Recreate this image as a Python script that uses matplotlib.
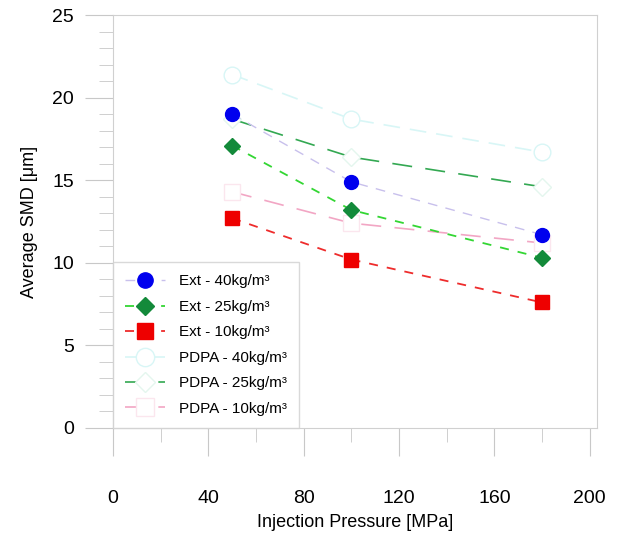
import matplotlib.pyplot as plt
from matplotlib.ticker import MultipleLocator

plt.rcParams['font.family'] = ['Liberation Sans', 'DejaVu Sans']

pressure = [50, 100, 180]
ext_40 = [19.0, 14.9, 11.7]
ext_25 = [17.1, 13.2, 10.3]
ext_10 = [12.7, 10.2, 7.6]
pdpa_40 = [21.4, 18.7, 16.7]
pdpa_25 = [18.7, 16.4, 14.6]
pdpa_10 = [14.3, 12.4, 11.2]

fig = plt.figure(figsize=(6.27, 5.37), dpi=100)
ax = fig.add_axes([0.180, 0.203, 0.772, 0.769])

# PDPA series (faint open markers)
ax.plot(pressure, pdpa_40, color='#d8f6f6', ls=(0, (10, 6)), lw=1.2,
        marker='o', ms=12, mfc='white', mec='#d8f6f6', mew=1.0,
        label='PDPA - 40kg/m³', zorder=2)
ax.plot(pressure, pdpa_25, color='#33a852', ls=(0, (12, 8)), lw=1.2,
        marker='D', ms=9, mfc='white', mec='#e4f6ee', mew=1.0,
        label='PDPA - 25kg/m³', zorder=2)
ax.plot(pressure, pdpa_10, color='#f2a6c4', ls=(0, (12, 8)), lw=1.2,
        marker='s', ms=12, mfc='white', mec='#fbe6ee', mew=1.0,
        label='PDPA - 10kg/m³', zorder=2)

# Ext series
ax.plot(pressure, ext_40, color='#c8c0ec', ls=(0, (7, 6)), lw=1.0,
        marker='o', ms=10, mfc='#0000ee', mec='#0000ee',
        label='Ext - 40kg/m³', zorder=4)
ax.plot(pressure, ext_25, color='#33d633', ls=(0, (5, 5)), lw=1.3,
        marker='D', ms=8, mfc='#138a3a', mec='#138a3a',
        label='Ext - 25kg/m³', zorder=4)
ax.plot(pressure, ext_10, color='#ee2c2c', ls=(0, (5, 5)), lw=1.3,
        marker='s', ms=10, mfc='#ee0000', mec='#ee0000',
        label='Ext - 10kg/m³', zorder=4)

ax.set_xlim(0, 203)
ax.set_ylim(0, 25)
ax.xaxis.set_major_locator(MultipleLocator(40))
ax.xaxis.set_minor_locator(MultipleLocator(20))
ax.yaxis.set_major_locator(MultipleLocator(5))
ax.yaxis.set_minor_locator(MultipleLocator(1))
ax.tick_params(which='major', length=20, color='#c8c8c8', labelsize=14,
               direction='out')
ax.tick_params(which='minor', length=10, color='#c8c8c8', direction='out')
ax.tick_params(axis='x', which='major', pad=25)
ax.tick_params(axis='y', which='major', pad=8)
for s in ax.spines.values():
    s.set_color('#d0d0d0')

ax.set_xlabel('Injection Pressure [MPa]', fontsize=13, labelpad=5)
ax.set_ylabel('Average SMD [\u03bcm]', fontsize=13, labelpad=10)

handles, labels = ax.get_legend_handles_labels()
order = [3, 4, 5, 0, 1, 2]
leg = ax.legend([handles[i] for i in order], [labels[i] for i in order],
                loc='lower left', bbox_to_anchor=(0, 0), borderaxespad=0,
                fontsize=11, fancybox=False, handlelength=2.6,
                labelspacing=0.75, borderpad=0.8, handletextpad=0.9,
                markerscale=1.1)
leg.get_frame().set_edgecolor('#d0d0d0')
leg.get_frame().set_linewidth(1.0)

fig.savefig('out.png', dpi=100)
